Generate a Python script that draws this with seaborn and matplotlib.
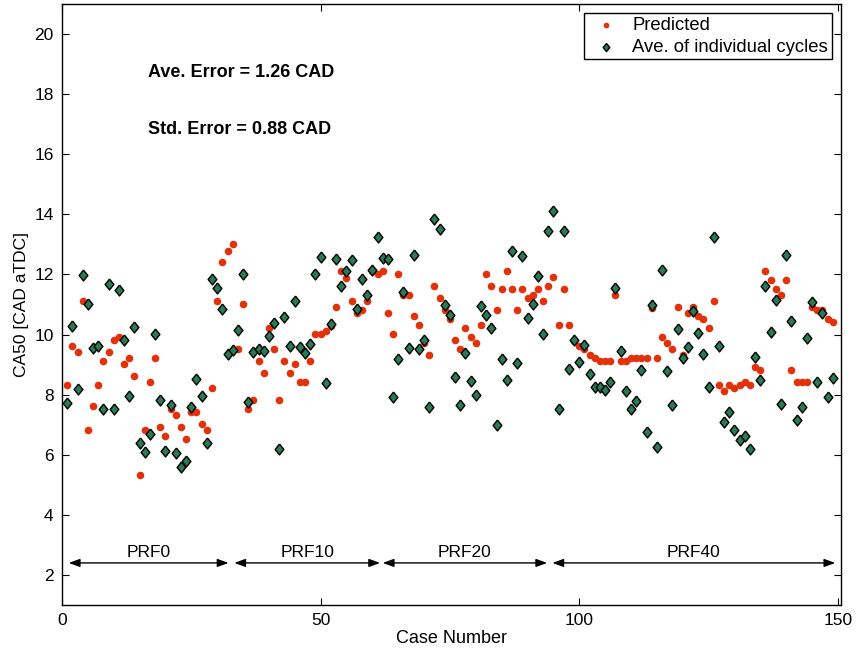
import numpy as np
import pandas as pd
import matplotlib
matplotlib.use("Agg")
import matplotlib.pyplot as plt
import seaborn as sns

# Case numbers
cases = list(range(1, 150))

# Predicted CA50 for each case [CAD aTDC]
predicted = [
    8.32, 9.61, 9.41, 11.12, 6.82, 7.62, 8.32, 9.11, 9.41, 9.81,
    9.91, 9.01, 9.22, 8.62, 5.32, 6.81, 8.41, 9.21, 6.91, 6.61,
    7.51, 7.31, 6.91, 6.51, 7.41, 7.41, 7.01, 6.81, 8.21, 11.11,
    12.40, 12.79, 13.00, 9.51, 11.02, 7.51, 7.82, 9.11, 8.71, 10.22,
    9.51, 7.82, 9.11, 8.71, 9.01, 8.41, 8.41, 9.11, 10.01, 10.01,
    10.11, 10.30, 10.91, 12.12, 11.89, 11.11, 10.71, 10.81, 11.11, 12.10,
    12.00, 12.12, 10.71, 10.01, 12.00, 11.31, 11.31, 10.61, 10.31, 9.71,
    9.31, 11.60, 11.21, 10.81, 10.51, 9.81, 9.51, 10.21, 9.91, 9.71,
    10.31, 12.00, 11.60, 10.81, 11.50, 12.10, 11.50, 10.81, 11.50, 11.21,
    11.31, 11.50, 11.11, 11.60, 11.90, 10.31, 11.50, 10.31, 9.80, 9.61,
    9.51, 9.31, 9.21, 9.11, 9.11, 9.11, 11.31, 9.11, 9.11, 9.21,
    9.21, 9.21, 9.21, 10.90, 9.21, 9.91, 9.71, 9.51, 10.91, 9.31,
    10.71, 10.91, 10.61, 10.51, 10.21, 11.11, 8.31, 8.11, 8.31, 8.21,
    8.31, 8.41, 8.31, 8.91, 8.81, 12.10, 11.80, 11.50, 11.31, 11.80,
    8.81, 8.41, 8.41, 8.41, 10.91, 10.81, 10.81, 10.51, 10.41,
]

# Average of individual cycles for each case [CAD aTDC]
cycle_average = [
    7.73, 10.28, 8.20, 11.97, 11.02, 9.54, 9.62, 7.52, 11.68, 7.51,
    11.47, 9.82, 7.96, 10.26, 6.40, 6.08, 6.69, 10.01, 7.81, 6.14,
    7.65, 6.07, 5.58, 5.78, 7.60, 8.53, 7.94, 6.38, 11.86, 11.54,
    10.84, 9.35, 9.49, 10.15, 12.02, 7.77, 9.42, 9.53, 9.46, 9.96,
    10.38, 6.20, 10.58, 9.63, 11.11, 9.58, 9.39, 9.69, 12.03, 12.58,
    8.40, 10.36, 12.51, 11.63, 12.13, 12.48, 10.84, 11.86, 11.32, 12.15,
    13.23, 12.56, 12.53, 7.92, 9.20, 11.41, 9.55, 12.65, 9.51, 9.81,
    7.60, 13.83, 13.51, 10.98, 10.64, 8.60, 7.65, 9.38, 8.47, 7.98,
    10.94, 10.64, 10.23, 6.98, 9.20, 8.50, 12.79, 9.04, 12.62, 10.55,
    11.02, 11.95, 10.01, 13.45, 14.12, 7.51, 13.45, 8.84, 9.81, 9.09,
    9.66, 8.68, 8.27, 8.27, 8.14, 8.43, 11.56, 9.44, 8.13, 7.53,
    7.80, 8.82, 6.77, 10.97, 6.27, 12.14, 8.80, 7.65, 10.17, 9.21,
    9.58, 10.78, 10.04, 9.35, 8.27, 13.25, 9.62, 7.10, 7.41, 6.83,
    6.48, 6.61, 6.20, 9.25, 8.49, 11.63, 10.09, 11.14, 7.68, 12.65,
    10.44, 7.17, 7.59, 9.90, 11.08, 8.42, 10.71, 7.93, 8.54,
]

# Fuel groups: label, first case, last case
groups = ["PRF0", "PRF10", "PRF20", "PRF40"]
group_start = [1.3, 33.3, 62.0, 94.8]
group_end = [32.2, 61.5, 93.8, 149.5]

ave_error = 1.26
std_error = 0.88

sns.set_theme(style="ticks")
plt.rcParams["font.family"] = ["Liberation Sans", "DejaVu Sans"]
plt.rcParams["text.color"] = "black"
plt.rcParams["axes.labelcolor"] = "black"

red = "#E3320A"
green = "#2A7A55"
diamond = [(0, 1), (0.8, 0), (0, -1), (-0.8, 0), (0, 1)]

df = pd.DataFrame({"case": cases, "pred": predicted, "ave": cycle_average})

fig = plt.figure(figsize=(8.56, 6.54), dpi=100)
ax = fig.add_axes([62 / 856, 1 - 605 / 654, (841 - 62) / 856, (605 - 4) / 654])

sns.scatterplot(data=df, x="case", y="pred", ax=ax, color=red, marker="o",
                s=30, linewidth=0, label="Predicted", zorder=3)
sns.scatterplot(data=df, x="case", y="ave", ax=ax, color=green, marker=diamond,
                s=62, edgecolor="black", linewidth=1.0,
                label="Ave. of individual cycles", zorder=4)

ax.set_xlim(0, 150.6)
ax.set_ylim(1, 21)
ax.set_xticks([0, 50, 100, 150])
ax.set_yticks(np.arange(2, 21, 2))
ax.tick_params(direction="in", length=5, width=0.8, top=True, right=True,
               labelsize=12.5, colors="black", pad=6)
for sp in ax.spines.values():
    sp.set_visible(True)
    sp.set_color("black")
    sp.set_linewidth(1.0)

ax.set_xlabel("Case Number", fontsize=13, labelpad=1)
ax.set_ylabel("CA50 [CAD aTDC]", fontsize=12.5, labelpad=4)

# Fuel group spans
for name, x0, x1 in zip(groups, group_start, group_end):
    ax.annotate("", xy=(x0, 2.4), xytext=(x1, 2.4),
                arrowprops=dict(arrowstyle="<|-|>,head_length=0.55,head_width=0.2",
                                color="black", lw=1.0, shrinkA=0, shrinkB=0))
    ax.text((x0 + x1) / 2, 2.76, name, ha="center", va="center", fontsize=12.5)

ax.text(16.6, 18.73, f"Ave. Error = {ave_error:.2f} CAD", fontsize=13,
        fontweight="bold", ha="left", va="center")
ax.text(16.6, 16.84, f"Std. Error = {std_error:.2f} CAD", fontsize=13,
        fontweight="bold", ha="left", va="center")

leg = ax.legend(loc="upper right", fontsize=13.3, frameon=True, fancybox=False,
                framealpha=1, edgecolor="black", borderaxespad=0.5,
                handletextpad=0.4, labelspacing=0.25, borderpad=0.2,
                markerscale=0.75)
leg.get_frame().set_linewidth(1.0)

fig.savefig("out.png", dpi=100)
